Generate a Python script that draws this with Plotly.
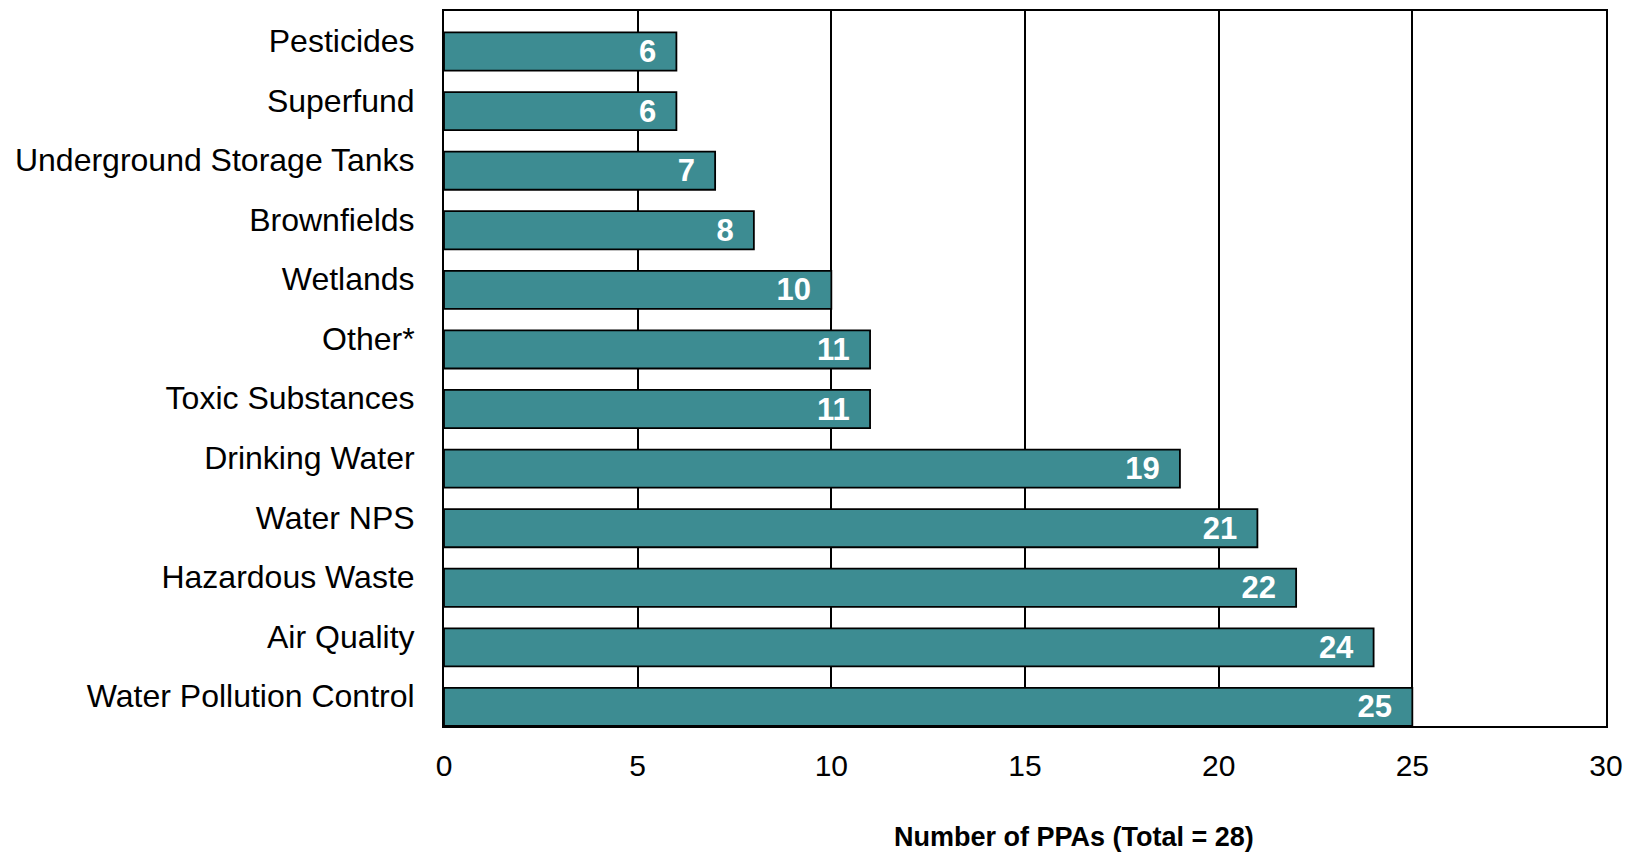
import plotly.graph_objects as go

# bottom to top
categories = ["Water Pollution Control", "Air Quality", "Hazardous Waste", "Water NPS",
              "Drinking Water", "Toxic Substances", "Other*", "Wetlands", "Brownfields",
              "Underground Storage Tanks", "Superfund", "Pesticides"]
counts = [25, 24, 22, 21, 19, 11, 11, 10, 8, 7, 6, 6]
x_ticks = [0, 5, 10, 15, 20, 25, 30]

fig = go.Figure()
fig.add_trace(go.Bar(
    x=counts, y=categories, orientation="h",
    width=0.64, offset=-0.5,
    marker=dict(color="#3D8C92", line=dict(color="black", width=1.8)),
    texttemplate="%{x}\u00a0\u00a0", textposition="inside", insidetextanchor="end",
    constraintext="none", textangle=0,
    textfont=dict(family="Arial, Liberation Sans", size=31, color="white", weight="bold"),
    cliponaxis=False,
))

fig.update_layout(
    width=1638, height=852,
    margin=dict(l=436, r=40, t=1, b=134),
    plot_bgcolor="white", paper_bgcolor="white",
    font=dict(family="Arial, Liberation Sans", size=28, color="black"),
    showlegend=False,
)
fig.update_xaxes(
    range=[0, 30], tickvals=x_ticks, showgrid=True, gridcolor="black", gridwidth=1.5,
    showline=True, linecolor="black", linewidth=2, mirror=True,
    ticks="", ticklabelstandoff=12, zeroline=False, tickfont=dict(size=30),
)
fig.update_yaxes(
    type="category", categoryorder="array", categoryarray=categories,
    range=[-0.5, 11.5], showgrid=False, showline=True, linecolor="black", linewidth=2,
    mirror=True, ticks="", ticklabelstandoff=21, tickfont=dict(size=32),
)
fig.add_annotation(
    text="<b>Number of PPAs (Total = 28)</b>", xref="paper", yref="paper",
    x=0.542, y=-0.155, xanchor="center", yanchor="middle", showarrow=False,
    font=dict(size=27),
)

fig.write_html("out.html")
